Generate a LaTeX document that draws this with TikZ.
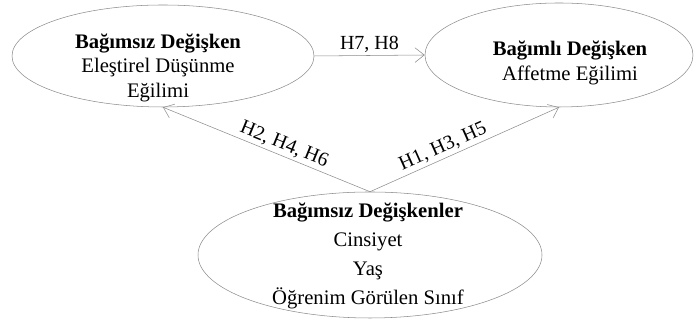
\documentclass[tikz,border=0pt]{standalone}
\usepackage{fontspec}
\setmainfont{Liberation Serif}
\usetikzlibrary{shapes.geometric,arrows.meta}

\tikzset{
  oval/.style={draw=black!45, ellipse, inner sep=0pt},
  link/.style={draw=black!45, -{Straight Barb[length=7pt,width=11pt]}},
  txt/.style={align=center, inner sep=0pt, font=\fontsize{15.5}{18.5}\selectfont},
  hyp/.style={font=\fontsize{15}{18}\selectfont, inner sep=2pt}
}

\begin{document}
\begin{tikzpicture}[x=0.75pt,y=0.75pt]
\useasboundingbox (0,0) rectangle (694,323);

\node [oval, minimum width=226.5pt, minimum height=76.5pt] (indep) at (163,267) {};
\node [oval, minimum width=201pt, minimum height=78pt] (dep) at (559,268) {};
\node [oval, minimum width=258pt, minimum height=94.5pt] (demo) at (370,68) {};

\node [txt] (indeptxt) at (158,255.3) {\textbf{Bağımsız Değişken}\\Eleştirel Düşünme\\Eğilimi};
\node [txt] (deptxt) at (570,260) {\textbf{Bağımlı Değişken}\\Affetme Eğilimi};
\node [txt, font=\fontsize{15.5}{21.75}\selectfont] (demotxt) at (368,67) {\textbf{Bağımsız Değişkenler}\\Cinsiyet\\Yaş\\Öğrenim Görülen Sınıf};

\draw [link] (indep.east) -- node [hyp, above] (h78) {H7, H8} (dep.west);
\draw [link] (demo.north) -- node [hyp, above, sloped, pos=0.435] (h246) {H2, H4, H6} (indep.south);
\draw [link] (demo.north) -- node [hyp, above, sloped, pos=0.41] (h135) {H1, H3, H5} (dep.south);

\end{tikzpicture}
\end{document}
